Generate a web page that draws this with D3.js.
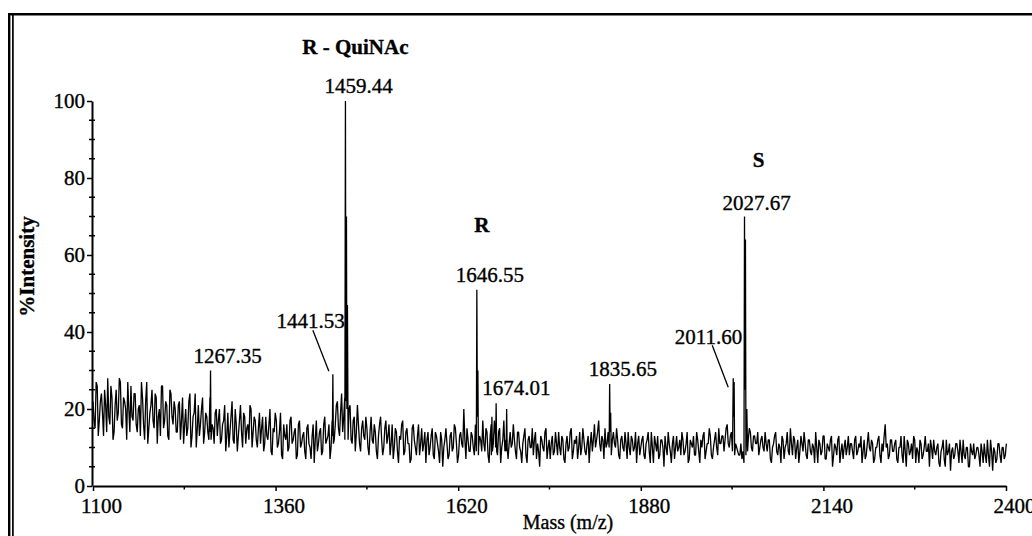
<!DOCTYPE html>
<html>
<head>
<meta charset="utf-8">
<script src="https://cdn.jsdelivr.net/npm/d3@7"></script>
<style>
  body { margin: 0; background: #fff; }
  svg text { font-family: "Liberation Serif", serif; fill: #000; stroke: #000; stroke-width: 0.35px; }
</style>
</head>
<body>
<svg id="chart" width="1032" height="536"></svg>
<script>
// DATA: spectrum
// baseline noise, one value every 3 m/z from 1100
const noiseStart = 1100, noiseStep = 3;
const noise = [
  22, 15, 26, 17, 24, 13, 21, 28, 16, 23, 14, 25, 19, 27, 15, 22, 12, 20, 26, 17,
  24, 14, 21, 27, 16, 22, 11, 19, 25, 15, 23, 18, 13, 26, 17, 21, 12, 24, 16, 20,
  14, 22, 17, 11, 20, 15, 24, 13, 19, 10, 21, 16, 23, 14, 18, 12, 22, 15, 19, 13,
  20, 12, 17, 9, 19, 14, 22, 11, 16, 13, 21, 10, 18, 15, 12, 20, 14, 17, 10, 19,
  15, 9, 18, 12, 20, 8, 14, 17, 11, 19, 7, 13, 16, 10, 18, 12, 15, 8, 17, 11,
  14, 7, 16, 10, 13, 6, 17, 11, 15, 9, 18, 12, 16, 10, 19, 16, 22, 13, 24, 18,
  19, 13, 21, 11, 18, 14, 16, 9, 17, 12, 15, 8, 18, 11, 14, 7, 16, 12, 10, 17,
  13, 8, 16, 10, 14, 6, 12, 17, 9, 15, 11, 7, 16, 10, 13, 8, 15, 11, 6, 14,
  10, 15, 7, 13, 9, 14, 5, 12, 11, 8, 14, 10, 15, 6, 13, 11, 20, 7, 12, 9,
  13, 8, 15, 10, 12, 17, 9, 14, 6, 16, 11, 13, 8, 15, 10, 17, 12, 7, 14, 11,
  12, 7, 14, 9, 11, 15, 6, 13, 10, 8, 14, 11, 5, 12, 9, 15, 10, 7, 13, 9,
  11, 14, 8, 12, 6, 13, 10, 15, 9, 11, 7, 14, 10, 12, 8, 13, 11, 9, 16, 12,
  17, 9, 12, 15, 11, 13, 8, 14, 10, 12, 7, 13, 9, 11, 14, 8, 12, 10, 6, 13,
  10, 13, 7, 12, 9, 14, 6, 11, 13, 8, 12, 5, 10, 14, 9, 11, 7, 13, 10, 8,
  12, 9, 14, 7, 11, 13, 8, 12, 6, 10, 14, 9, 11, 13, 7, 12, 10, 15, 11, 13,
  12, 16, 10, 14, 18, 11, 9, 8, 7, 10, 16, 12, 14, 9, 13, 11, 8, 12, 10, 14,
  9, 12, 6, 11, 14, 8, 10, 13, 7, 11, 9, 15, 8, 12, 10, 6, 13, 9, 11, 7,
  12, 8, 10, 14, 6, 11, 9, 13, 7, 10, 12, 5, 11, 8, 13, 9, 7, 12, 10, 8,
  11, 7, 13, 9, 10, 6, 12, 8, 14, 9, 11, 7, 10, 13, 6, 9, 16, 11, 8, 12,
  9, 12, 6, 10, 8, 13, 5, 11, 9, 7, 12, 10, 6, 11, 8, 13, 9, 5, 10, 12,
  8, 11, 5, 10, 7, 12, 9, 4, 10, 8, 11, 6, 9, 12, 7, 10, 5, 9, 11, 8,
  10, 5, 9, 11, 6, 8, 12, 4, 9, 7, 11, 6, 10, 8
];
// in-between samples, one every 3 m/z from 1101.5
const noiseMidStart = 1101.5;
const noiseMid = [
  17, 27, 13, 22, 19, 25, 14, 18, 26, 12, 21, 17, 28, 16, 23, 20, 27, 14, 18, 24,
  16, 20, 13, 23, 12, 27, 15, 21, 17, 24, 11, 20, 26, 15, 22, 13, 25, 18, 22, 14,
  21, 12, 23, 16, 13, 22, 10, 18, 24, 15, 13, 20, 11, 19, 14, 23, 16, 11, 20, 17,
  11, 16, 21, 13, 10, 18, 12, 20, 9, 17, 14, 19, 11, 16, 21, 10, 18, 12, 15, 11,
  18, 11, 13, 16, 9, 15, 19, 10, 14, 8, 16, 12, 9, 17, 11, 14, 7, 16, 10, 13,
  9, 15, 11, 7, 16, 12, 9, 14, 8, 16, 11, 13, 7, 17, 12, 21, 15, 19, 14, 23,
  14, 20, 12, 17, 9, 21, 11, 15, 13, 18, 10, 14, 12, 16, 9, 13, 18, 8, 15, 11,
  16, 11, 7, 15, 9, 13, 16, 8, 14, 11, 6, 15, 12, 8, 16, 11, 9, 14, 12, 8,
  13, 8, 14, 11, 6, 12, 10, 15, 7, 13, 9, 16, 11, 8, 14, 10, 12, 15, 9, 14,
  10, 16, 7, 13, 9, 11, 15, 8, 13, 11, 17, 9, 14, 6, 12, 9, 15, 11, 10, 16,
  9, 14, 10, 6, 13, 8, 12, 10, 15, 12, 7, 9, 13, 10, 14, 7, 12, 11, 8, 14,
  8, 10, 13, 7, 11, 9, 14, 7, 12, 13, 10, 8, 15, 9, 11, 6, 14, 12, 10, 14,
  11, 13, 7, 10, 14, 9, 12, 11, 15, 8, 12, 10, 14, 7, 10, 13, 9, 14, 11, 8,
  12, 8, 11, 14, 6, 10, 13, 9, 7, 12, 10, 13, 8, 11, 6, 13, 10, 9, 12, 14,
  8, 11, 6, 12, 10, 8, 14, 9, 12, 13, 7, 11, 15, 8, 10, 14, 8, 11, 13, 9,
  15, 11, 13, 9, 12, 10, 8, 11, 9, 6, 12, 15, 10, 13, 11, 14, 10, 13, 9, 11,
  12, 7, 10, 13, 9, 11, 6, 12, 10, 14, 8, 11, 13, 7, 12, 9, 11, 14, 8, 12,
  9, 11, 6, 10, 12, 8, 13, 7, 11, 9, 13, 8, 10, 12, 6, 11, 10, 8, 13, 11,
  9, 12, 8, 11, 13, 9, 7, 11, 10, 12, 6, 10, 12, 8, 11, 13, 10, 7, 12, 9,
  11, 7, 10, 13, 6, 9, 12, 8, 11, 13, 6, 9, 12, 7, 10, 9, 11, 12, 7, 9,
  10, 6, 9, 12, 5, 8, 11, 9, 7, 11, 9, 12, 6, 8, 10, 5, 11, 8, 7, 10,
  8, 11, 6, 8, 12, 5, 9, 10, 6, 11, 8, 10, 7, 11
];

// peak clusters [m/z, %intensity]
const peakClusters = [
  [[1266.6, 14], [1267.35, 30], [1268.1, 12]],
  [[1440.8, 13], [1441.53, 29], [1442.3, 11]],
  [[1458.6, 12], [1459.44, 100], [1460.1, 22], [1460.9, 70], [1461.5, 20], [1462.3, 47], [1463.2, 12]],
  [[1645.8, 9], [1646.55, 51], [1647.3, 18], [1648.0, 30], [1648.8, 8]],
  [[1667.3, 8], [1668.0, 18], [1668.7, 9]],
  [[1673.3, 10], [1674.01, 21.5], [1674.8, 9]],
  [[1688.3, 9], [1689.0, 20], [1689.7, 10]],
  [[1834.9, 10], [1835.65, 26.5], [1836.4, 14], [1837.1, 19], [1837.9, 9]],
  [[2010.8, 13], [2011.6, 28], [2012.2, 18], [2012.9, 27], [2013.6, 8]],
  [[2026.9, 6], [2027.67, 70], [2028.3, 25], [2029.0, 64], [2029.7, 8], [2031.0, 20], [2032.0, 9]]
];

// annotated peaks
const peakLabels = ["1267.35", "1441.53", "1459.44", "1646.55", "1674.01", "1835.65", "2011.60", "2027.67"];
const peakHeights = [30, 29, 100, 51, 21.5, 26.5, 28, 70];
const groupLabels = ["R - QuiNAc", "R", "S"];
const groupPeaks = ["1459.44", "1646.55", "2027.67"];

// axis ticks
const xTicks = [1100, 1360, 1620, 1880, 2140, 2400];
const xMinor = [1230, 1490, 1750, 2010, 2270];
const yTicks = [0, 20, 40, 60, 80, 100];
const yMinor = [5, 10, 15, 25, 30, 35, 45, 50, 55, 65, 70, 75, 85, 90, 95];

// SETUP
const W = 1032, H = 536;
const plot = { left: 93, right: 1006, top: 101, bottom: 486 };
const svg = d3.select("#chart");

const x = d3.scaleLinear().domain([1100, 2400]).range([plot.left, plot.right]);
const y = d3.scaleLinear().domain([0, 100]).range([plot.bottom, plot.top]);

// frame (double line on the left, single on top)
svg.append("line").attr("x1", 8).attr("x2", W).attr("y1", 14.2).attr("y2", 14.2)
  .attr("stroke", "#000").attr("stroke-width", 2.4);
svg.append("line").attr("x1", 9.2).attr("x2", 9.2).attr("y1", 13).attr("y2", H)
  .attr("stroke", "#000").attr("stroke-width", 2.4);
svg.append("line").attr("x1", 12.9).attr("x2", 12.9).attr("y1", 15).attr("y2", H)
  .attr("stroke", "#000").attr("stroke-width", 1.7);

// build spectrum: both noise grids + peak clusters
let points = noise.map((v, i) => [noiseStart + i * noiseStep, v])
  .concat(noiseMid.map((v, i) => [noiseMidStart + i * noiseStep, v]));
peakClusters.forEach(c => {
  const lo = c[0][0], hi = c[c.length - 1][0];
  points = points.filter(p => p[0] < lo || p[0] > hi);
  points = points.concat(c);
});
points.sort((a, b) => a[0] - b[0]);

const line = d3.line().x(d => x(d[0])).y(d => y(d[1]));
svg.append("path")
  .datum(points)
  .attr("d", line)
  .attr("fill", "none")
  .attr("stroke", "#000")
  .attr("stroke-width", 1.3)
  .attr("stroke-linejoin", "bevel");

// AXES
const xAxis = svg.append("g")
  .attr("transform", `translate(0,${plot.bottom})`)
  .call(d3.axisBottom(x).tickValues(xTicks).tickSize(5).tickSizeOuter(0).tickFormat(d3.format("d")));
xAxis.select(".domain").attr("stroke-width", 2);
xAxis.selectAll(".tick line").attr("stroke-width", 1.5);
xAxis.selectAll(".tick text")
  .attr("dx", 8).attr("y", 12)
  .style("font-size", "21px").style("font-family", "'Liberation Serif', serif");
xAxis.selectAll(".minor").data(xMinor).enter().append("line")
  .attr("x1", d => x(d)).attr("x2", d => x(d)).attr("y1", 0).attr("y2", 3.5)
  .attr("stroke", "#000").attr("stroke-width", 1.5);

const yAxis = svg.append("g")
  .attr("transform", `translate(${plot.left - 1},0)`)
  .call(d3.axisLeft(y).tickValues(yTicks).tickSize(5).tickSizeOuter(0));
yAxis.select(".domain").attr("stroke-width", 2);
yAxis.selectAll(".tick line").attr("stroke-width", 1.5);
yAxis.selectAll(".tick text")
  .attr("x", -7)
  .style("font-size", "21px").style("font-family", "'Liberation Serif', serif");
yAxis.selectAll(".minor").data(yMinor).enter().append("line")
  .attr("x1", -3).attr("x2", 3).attr("y1", d => y(d)).attr("y2", d => y(d))
  .attr("stroke", "#000").attr("stroke-width", 1.5);

// axis titles
svg.append("text")
  .attr("x", 568).attr("y", 529)
  .attr("text-anchor", "middle")
  .style("font-size", "20px")
  .text("Mass (m/z)");

svg.append("text")
  .attr("transform", `translate(34,${(plot.top + plot.bottom) / 2 - 27}) rotate(-90)`)
  .attr("text-anchor", "middle")
  .style("font-size", "21px").style("font-weight", "bold")
  .text("%Intensity");

// PEAK LABELS (layout offsets from each peak top)
const labelLayout = {
  "1267.35": { dx: -17, dy: -8, anchor: "start" },
  "1441.53": { dx: 12, dy: -46, anchor: "end", lead: [-20, -44, -4, -3] },
  "1459.44": { dx: -21, dy: -8, anchor: "start" },
  "1646.55": { dx: -21, dy: -8, anchor: "start" },
  "1674.01": { dx: -14, dy: -8, anchor: "start" },
  "1835.65": { dx: -21, dy: -8, anchor: "start" },
  "2011.60": { dx: 9, dy: -34, anchor: "end", lead: [-21, -33, -5, 9] },
  "2027.67": { dx: -22, dy: -7, anchor: "start" }
};

peakLabels.forEach((t, i) => {
  const px = x(+t), py = y(peakHeights[i]);
  const L = labelLayout[t];
  svg.append("text")
    .attr("x", px + L.dx).attr("y", py + L.dy)
    .attr("text-anchor", L.anchor)
    .style("font-size", "21px")
    .text(t);
  if (L.lead) {
    svg.append("line")
      .attr("x1", px + L.lead[0]).attr("y1", py + L.lead[1])
      .attr("x2", px + L.lead[2]).attr("y2", py + L.lead[3])
      .attr("stroke", "#000").attr("stroke-width", 1.3);
  }
});

const groupLayout = {
  "R - QuiNAc": { dx: 10, dy: -47 },
  "R": { dx: 5, dy: -58 },
  "S": { dx: 14, dy: -50 }
};
groupLabels.forEach((t, i) => {
  const k = peakLabels.indexOf(groupPeaks[i]);
  const px = x(+groupPeaks[i]), py = y(peakHeights[k]);
  svg.append("text")
    .attr("x", px + groupLayout[t].dx).attr("y", py + groupLayout[t].dy)
    .attr("text-anchor", "middle")
    .style("font-size", "21px").style("font-weight", "bold")
    .text(t);
});
</script>
</body>
</html>
